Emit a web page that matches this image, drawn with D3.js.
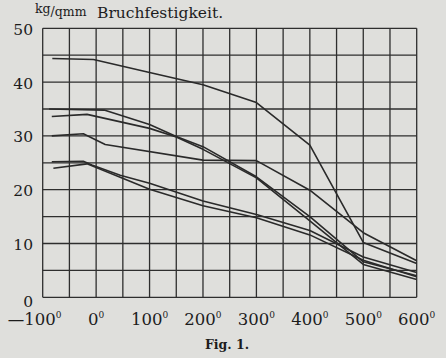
<!DOCTYPE html>
<html><head><meta charset="utf-8">
<script src="https://cdn.jsdelivr.net/npm/d3@7/dist/d3.min.js"></script>
<style>
html,body{margin:0;padding:0;background:#dfdfdc;}
svg{display:block;}
text{fill:#1c1c1c;}
</style></head>
<body>
<script>
// Data: [temperature °C, Bruchfestigkeit kg/qmm]
const curveA  = [[-82,44.4],[-5,44.2],[100,41.8],[200,39.5],[300,36.2],[400,28.3],[500,10.2],[600,6.3]];
const curveB1 = [[-88,35.0],[15,34.8],[100,32.1],[150,29.9],[200,28.0],[300,22.4],[400,15.0],[500,6.6],[600,4.0]];
const curveB2 = [[-83,33.6],[-17,34.0],[100,31.4],[150,29.8],[200,27.5],[300,22.2],[400,14.2],[500,6.1],[600,3.3]];
const curveC  = [[-83,30.0],[-24,30.4],[17,28.4],[200,25.5],[300,25.4],[400,19.9],[500,12.0],[600,6.8]];
const curveD1 = [[-83,25.2],[-24,25.3],[-8,24.6],[45,22.7],[100,21.2],[200,17.9],[300,15.4],[400,12.4],[500,7.5],[600,4.6]];
const curveD2 = [[-80,24.0],[-17,24.8],[45,22.3],[100,20.1],[200,17.0],[300,14.8],[400,11.6],[500,6.9],[600,3.8]];
const curves = [curveA, curveB1, curveB2, curveC, curveD1, curveD2];

const xTicks = [-100,0,100,200,300,400,500,600];
const yTicks = [0,10,20,30,40,50];
const xGrid = d3.range(-100,601,50);
const yGrid = d3.range(0,51,5);

const W = 446, H = 358;
const svg = d3.select("body").append("svg").attr("width",W).attr("height",H);

const x = d3.scaleLinear().domain([-100,600]).range([42.7,416.7]);
const y = d3.scaleLinear().domain([0,50]).range([297.3,28.3]);

const ink = "#2e2e2e";
// grid
svg.append("g").selectAll("line").data(xGrid).join("line")
  .attr("x1",d=>x(d)).attr("x2",d=>x(d)).attr("y1",y(0)).attr("y2",y(50))
  .attr("stroke",ink).attr("stroke-width",1.3);
svg.append("g").selectAll("line").data(yGrid).join("line")
  .attr("x1",x(-100)).attr("x2",x(600)).attr("y1",d=>y(d)).attr("y2",d=>y(d))
  .attr("stroke",ink).attr("stroke-width",1.3);

// curves
const line = d3.line().x(d=>x(d[0])).y(d=>y(d[1]));
svg.append("g").selectAll("path").data(curves).join("path")
  .attr("d",line).attr("fill","none").attr("stroke","#2a2a2a")
  .attr("stroke-width",1.6).attr("stroke-linejoin","round");

// y labels
svg.append("g").selectAll("text").data(yTicks).join("text")
  .attr("x",33).attr("y",d=>y(d)+(d===0?10:6.5))
  .attr("text-anchor","end")
  .style("font-family","'DejaVu Serif', serif").style("font-size","15.5px")
  .text(d=>d);

// x labels
const xl = svg.append("g").selectAll("text").data(xTicks).join("text")
  .attr("x",d=>x(d)+(d<0?-8:0)).attr("y",325)
  .attr("text-anchor","middle")
  .style("font-family","'DejaVu Serif', serif").style("font-size","16.5px");
xl.append("tspan").text(d=>d<0?"\u2014"+Math.abs(d):String(d));
xl.append("tspan").attr("dy",-7).style("font-size","9px").text("0");

// title
const t = svg.append("text").attr("x",35).attr("y",13)
  .style("font-family","'DejaVu Serif', serif").style("font-size","12.5px");
t.append("tspan").text("kg");
t.append("tspan").attr("dy",3).text("/qmm");
svg.append("text").attr("x",97).attr("y",17.5)
  .style("font-family","'DejaVu Serif', serif").style("font-size","15.5px")
  .text("Bruchfestigkeit.");

svg.append("text").attr("x",227).attr("y",349).attr("text-anchor","middle")
  .style("font-family","'DejaVu Serif', serif").style("font-size","12.5px").style("font-weight","bold")
  .text("Fig. 1.");
</script>
</body></html>
